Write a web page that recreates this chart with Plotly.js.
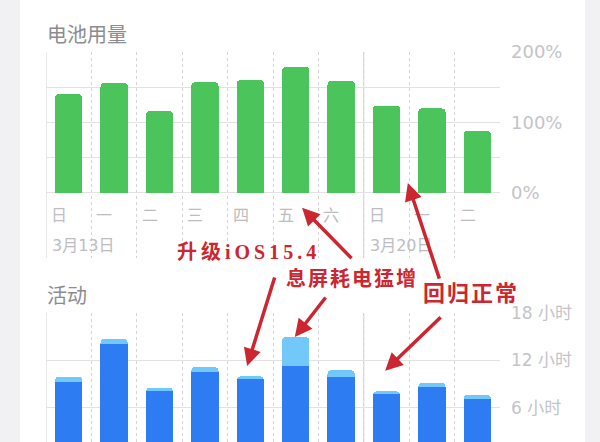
<!DOCTYPE html>
<html>
<head>
<meta charset="utf-8">
<script src="https://cdn.plot.ly/plotly-3.0.1.min.js"></script>
<style>
  html, body { margin: 0; padding: 0; }
  body {
    width: 600px; height: 442px; overflow: hidden;
    background: linear-gradient(to right, #f1f1f3 0px, #f1f1f3 20px, #ffffff 20px, #ffffff 585px, #f1f1f3 585px);
  }
  #chart { width: 600px; height: 442px; }
</style>
</head>
<body>
<div id="chart"></div>
<script>
// ---- data ----
const days = ['日', '一', '二', '三', '四', '五', '六', '日', '一', '二'];
const dateLabels = ['3月13日', '3月20日'];
const dateLabelIndex = [0, 7];
const batteryPct = [140, 156, 116, 157, 160, 179, 159, 124, 120, 88];
const screenOnHours = [9.25, 14.1, 8.2, 10.55, 9.7, 11.3, 9.85, 7.8, 8.7, 7.1];
const screenOffHours = [0.7, 0.6, 0.35, 0.6, 0.3, 3.65, 0.9, 0.3, 0.45, 0.55];
const pctTicks = [0, 50, 100, 150, 200];
const pctTickText = ['0%', '', '100%', '', '200%'];
const hourTicks = [6, 12, 18];
const hourTickText = ['6 小时', '12 小时', '18 小时'];
const titleTop = '电池用量';
const titleBottom = '活动';
const notes = ['升级iOS15.4', '息屏耗电猛增', '回归正常'];

// ---- build ----
const idx = days.map((_, i) => i);
const bounds = days.map((_, i) => i - 0.5).concat([days.length - 0.5]);
const weekStart = dateLabelIndex.map(i => i - 0.5);

const green = '#4cc45c';
const blue = '#2d7cf2';
const lightBlue = '#72c8f9';
const red = '#cc2630';
const gray = '#c4c4c8';

const traces = [
  { type: 'bar', x: idx, y: batteryPct, xaxis: 'x', yaxis: 'y', width: 0.6,
    marker: { color: green, cornerradius: 4 }, hoverinfo: 'skip' },
  { type: 'bar', x: idx, y: screenOnHours, xaxis: 'x2', yaxis: 'y2', width: 0.6,
    marker: { color: blue }, hoverinfo: 'skip' },
  { type: 'bar', x: idx, y: screenOffHours, xaxis: 'x2', yaxis: 'y2', width: 0.6,
    marker: { color: lightBlue }, hoverinfo: 'skip' }
];

const xCommon = {
  range: [-0.5, days.length - 0.5], tickmode: 'array', tickvals: bounds,
  showticklabels: false, ticks: '', showgrid: true, gridcolor: '#d4d4d4',
  griddash: '3px,3px', gridwidth: 1, zeroline: false, showline: false, fixedrange: true
};

const shapes = [];
['y', 'y2'].forEach((yr, k) => {
  const xr = k === 0 ? 'x' : 'x2';
  weekStart.forEach(xv => {
    shapes.push({ type: 'line', xref: xr, yref: yr + ' domain', x0: xv, x1: xv, y0: 0, y1: 1,
      line: { color: '#d2d2d2', width: 1 }, layer: 'below' });
  });
});

const annotations = [];
annotations.push({ xref: 'paper', yref: 'paper', x: 0.004, y: 0.925, xanchor: 'left', yanchor: 'middle', xshift: -3,
  text: titleTop, showarrow: false, font: { family: 'Noto Sans CJK SC', size: 20, color: '#8c8c90' } });
annotations.push({ xref: 'paper', yref: 'paper', x: 0.004, y: 0.333, xanchor: 'left', yanchor: 'middle', xshift: -3,
  text: titleBottom, showarrow: false, font: { family: 'Noto Sans CJK SC', size: 20, color: '#8c8c90' } });
days.forEach((d, i) => {
  annotations.push({ xref: 'x', yref: 'y', x: i - 0.5, y: -30, xanchor: 'left', yanchor: 'middle', xshift: 3,
    text: d, showarrow: false, font: { family: 'Noto Sans CJK SC', size: 16, color: '#bdbdc0' } });
});
dateLabels.forEach((t, k) => {
  annotations.push({ xref: 'x', yref: 'y', x: dateLabelIndex[k] - 0.5, y: -74, xanchor: 'left', yanchor: 'middle', xshift: 4,
    text: t, showarrow: false, font: { family: 'DejaVu Sans, Noto Sans CJK SC', size: 16, color: '#bdbdc0' } });
});

const noteFont = { family: 'Liberation Serif, Noto Sans CJK SC', size: 20, color: red, weight: 'bold' };
annotations.push({ xref: 'paper', yref: 'paper', x: 0.445, y: 0.430, xanchor: 'center', yanchor: 'middle',
  text: notes[0], showarrow: false, font: Object.assign({}, noteFont, { size: 20 }) });
annotations.push({ xref: 'paper', yref: 'paper', x: 0.674, y: 0.371, xanchor: 'center', yanchor: 'middle',
  text: notes[1], showarrow: false, font: Object.assign({}, noteFont, { size: 20 }) });
annotations.push({ xref: 'paper', yref: 'paper', x: 0.936, y: 0.335, xanchor: 'center', yanchor: 'middle',
  text: notes[2], showarrow: false, font: Object.assign({}, noteFont, { size: 22 }) });

const arrow = { text: '', showarrow: true, arrowhead: 2, arrowsize: 1, arrowwidth: 3.5,
  arrowcolor: red, axref: 'pixel', ayref: 'pixel', standoff: 0 };
annotations.push(Object.assign({}, arrow, { xref: 'x', yref: 'y', x: 5.14, y: -21, ax: 51, ay: 52 }));
annotations.push(Object.assign({}, arrow, { xref: 'x', yref: 'y', x: 7.47, y: 14, ax: 32, ay: 97 }));
annotations.push(Object.assign({}, arrow, { xref: 'x2', yref: 'y2', x: 6.97, y: 10.7, ax: 57, ay: -55 }));
annotations.push(Object.assign({}, arrow, { xref: 'x2', yref: 'y2', x: 3.93, y: 11.3, ax: 28, ay: -90 }));
annotations.push(Object.assign({}, arrow, { xref: 'x2', yref: 'y2', x: 4.98, y: 14.96, ax: 32, ay: -41 }));

const layout = {
  width: 600, height: 442,
  margin: { l: 46, r: 100, t: 0, b: 0, pad: 0 },
  paper_bgcolor: 'rgba(0,0,0,0)', plot_bgcolor: 'rgba(0,0,0,0)',
  showlegend: false, barmode: 'stack', barcornerradius: 4,
  xaxis: Object.assign({}, xCommon, { domain: [0, 1], anchor: 'y' }),
  xaxis2: Object.assign({}, xCommon, { domain: [0, 1], anchor: 'y2' }),
  yaxis: {
    domain: [0.4163, 0.8824], range: [-92.2, 200], side: 'right', anchor: 'x',
    tickmode: 'array', tickvals: pctTicks, ticktext: pctTickText, ticks: '',
    ticklabelstandoff: 10, tickfont: { family: 'DejaVu Sans', size: 18, color: gray },
    showgrid: true, gridcolor: '#e2e2e2', zeroline: false, showline: false, fixedrange: true
  },
  yaxis2: {
    domain: [0, 0.2919], range: [1.7, 18], side: 'right', anchor: 'x2',
    tickmode: 'array', tickvals: hourTicks, ticktext: hourTickText, ticks: '',
    ticklabelstandoff: 10, tickfont: { family: 'DejaVu Sans, Noto Sans CJK SC', size: 17, color: gray },
    showgrid: true, gridcolor: '#e2e2e2', zeroline: false, showline: false, fixedrange: true
  },
  shapes: shapes,
  annotations: annotations
};

Plotly.newPlot('chart', traces, layout, { staticPlot: true, displayModeBar: false }).then(() => {
  const spacing = {};
  spacing[notes[0]] = '4px';
  spacing[notes[1]] = '2px';
  spacing[notes[2]] = '2px';
  document.querySelectorAll('.annotation-text').forEach(el => {
    if (spacing[el.textContent]) el.style.letterSpacing = spacing[el.textContent];
  });
});
</script>
</body>
</html>
